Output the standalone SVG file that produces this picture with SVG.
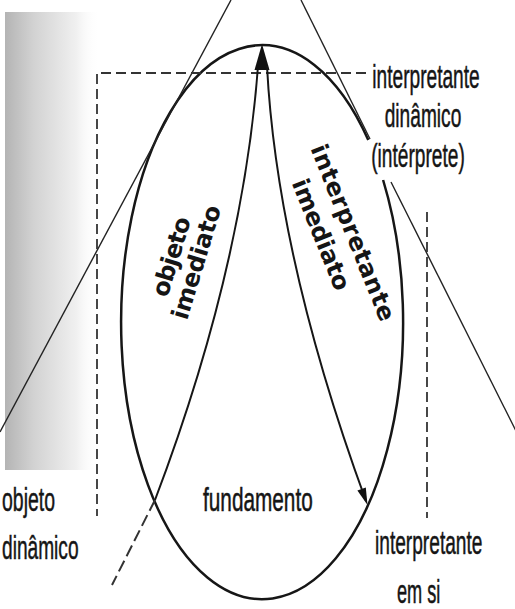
<svg xmlns="http://www.w3.org/2000/svg" width="515" height="609" viewBox="0 0 515 609">
  <style>
    .thick { fill: none; stroke: #161616; stroke-width: 2.5; }
    .arrow { fill: none; stroke: #161616; stroke-width: 2; }
    .thin { fill: none; stroke: #222; stroke-width: 1.4; }
    .dash { fill: none; stroke: #333; stroke-width: 1.8; stroke-dasharray: 10 5; }
    .head { fill: #111; stroke: none; }
    .lbl { font-family: "Liberation Sans", Arial, sans-serif; font-size: 33px; fill: #151515; stroke: #151515; stroke-width: 0.5; }
    .rot { font-family: "DejaVu Sans", Verdana, sans-serif; font-weight: bold; font-size: 24px; fill: #151515; text-anchor: middle; }
  </style>
  <defs>
    <linearGradient id="shade" x1="0" y1="0" x2="1" y2="0">
      <stop offset="0" stop-color="#b4b4b4"/>
      <stop offset="0.3" stop-color="#d2d2d2"/>
      <stop offset="0.75" stop-color="#f0f0f0"/>
      <stop offset="1" stop-color="#ffffff" stop-opacity="0"/>
    </linearGradient>
  </defs>

  <rect x="0" y="0" width="515" height="609" fill="#ffffff"/>
  <rect x="5" y="12" width="95" height="458" fill="url(#shade)"/>

  <g id="signo">
    <path class="thick" d="M 368.3 140 A 141 277 0 1 0 383.1 180"/>
  </g>

  <g id="connectors">
    <line class="thin" x1="231" y1="0" x2="0" y2="432"/>
    <line class="thin" x1="301" y1="0" x2="370" y2="139"/>
    <line class="thin" x1="391" y1="182" x2="516" y2="431"/>
    <path class="dash" d="M 366 73 L 97 73 L 97 516"/>
    <line class="dash" x1="427" y1="212" x2="427" y2="518"/>
    <line class="dash" x1="155" y1="500" x2="112" y2="585" style="stroke-dasharray: 12 5; stroke-width: 2"/>
    <path class="arrow" d="M 155 500 Q 243 268 258 66"/>
    <polygon class="head" points="262,44 269.5,70 254.5,70"/>
    <path class="arrow" d="M 267 66 Q 277 258 366 501"/>
    <polygon class="head" points="367.5,505 365.8,487.5 357.4,490.6"/>
  </g>

  <g id="label-interpretante-dinamico">
    <text class="lbl" transform="translate(426 88) scale(0.58 1)" text-anchor="middle">interpretante</text>
    <text class="lbl" transform="translate(423 127) scale(0.58 1)" text-anchor="middle">dinâmico</text>
    <text class="lbl" transform="translate(418 167) scale(0.58 1)" text-anchor="middle">(intérprete)</text>
  </g>

  <g id="label-objeto-dinamico">
    <text class="lbl" transform="translate(2 511) scale(0.59 1)">objeto</text>
    <text class="lbl" transform="translate(2 559) scale(0.58 1)">dinâmico</text>
  </g>

  <g id="label-fundamento">
    <text class="lbl" transform="translate(203 511) scale(0.63 1)">fundamento</text>
  </g>

  <g id="label-interpretante-em-si">
    <text class="lbl" transform="translate(375 554) scale(0.58 1)">interpretante</text>
    <text class="lbl" transform="translate(397 603) scale(0.55 1)">em si</text>
  </g>

  <g id="label-objeto-imediato">
    <text class="rot" transform="translate(172.5 257) rotate(-73)" x="0" y="7" textLength="82">objeto</text>
    <text class="rot" transform="translate(197.5 262.5) rotate(-73)" x="0" y="7" textLength="118">imediato</text>
  </g>

  <g id="label-interpretante-imediato">
    <text class="rot" transform="translate(352 233) rotate(68)" x="0" y="7" textLength="188">interpretante</text>
    <text class="rot" transform="translate(320 235) rotate(68)" x="0" y="7" textLength="118">imediato</text>
  </g>
</svg>
